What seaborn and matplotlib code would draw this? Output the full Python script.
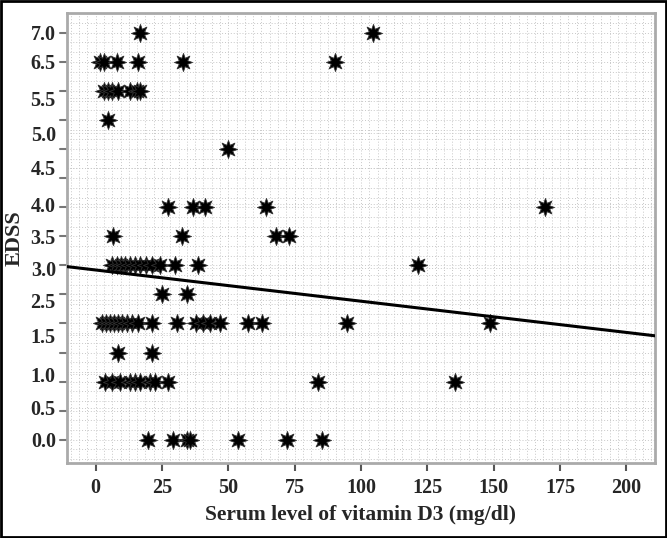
import numpy as np
import pandas as pd
import seaborn as sns
import matplotlib.pyplot as plt
from matplotlib.ticker import MultipleLocator

# serum vitamin D3 (mg/dl) and EDSS score
vitd3 = [16.7, 104.6,
         1.7, 3.0, 8.1, 16.0, 33.0, 90.3,
         3.2, 4.7, 6.2, 8.4, 13.0, 15.6, 16.8,
         4.7,
         50.0,
         27.3, 36.8, 41.3, 64.3, 169.5,
         6.6, 32.6, 68.0, 72.9,
         6.2, 8.1, 9.6, 11.1, 13.0, 14.9, 16.7, 19.0, 21.3, 24.3, 29.9, 38.6, 121.6,
         25.0, 34.5,
         2.4, 3.9, 5.4, 6.9, 8.4, 10.0, 11.8, 13.7, 16.0, 21.3, 30.7, 37.8, 40.5,
         43.1, 46.9, 57.5, 62.7, 94.8, 148.7,
         8.4, 21.3,
         3.6, 6.2, 9.2, 13.0, 14.9, 16.7, 20.5, 22.4, 27.3, 83.9, 135.6,
         19.8, 29.2, 34.5, 35.6, 53.7, 72.2, 85.4]
edss = [7.0, 7.0,
        6.5, 6.5, 6.5, 6.5, 6.5, 6.5,
        6.0, 6.0, 6.0, 6.0, 6.0, 6.0, 6.0,
        5.5,
        5.0,
        4.0, 4.0, 4.0, 4.0, 4.0,
        3.5, 3.5, 3.5, 3.5,
        3.0, 3.0, 3.0, 3.0, 3.0, 3.0, 3.0, 3.0, 3.0, 3.0, 3.0, 3.0, 3.0,
        2.5, 2.5,
        2.0, 2.0, 2.0, 2.0, 2.0, 2.0, 2.0, 2.0, 2.0, 2.0, 2.0, 2.0, 2.0,
        2.0, 2.0, 2.0, 2.0, 2.0, 2.0,
        1.5, 1.5,
        1.0, 1.0, 1.0, 1.0, 1.0, 1.0, 1.0, 1.0, 1.0, 1.0, 1.0,
        0.0, 0.0, 0.0, 0.0, 0.0, 0.0, 0.0]

# fit line as printed in the figure (overlapping points hide part of the sample)
fit_intercept = 2.92
fit_slope = -0.00537

xticks = [0, 25, 50, 75, 100, 125, 150, 175, 200]
# the y labels in the original sit a bit off the tick marks
ylabels = ["0.0", "0.5", "1.0", "1.5", "2.5", "3.0", "3.5", "4.0", "4.5", "5.0", "5.5", "6.5", "7.0"]
ylabel_pos = [0.0, 0.55, 1.13, 1.8, 2.4, 2.95, 3.5, 4.05, 4.68, 5.27, 5.87, 6.5, 7.0]

df = pd.DataFrame({"vitd3": vitd3, "edss": edss})

sns.set_theme(style="white")
plt.rcParams["font.family"] = ["Liberation Serif", "DejaVu Serif"]

fig = plt.figure(figsize=(6.67, 5.38), dpi=100)
ax = fig.add_axes([0.1004, 0.1394, 0.8816, 0.8364])
ax.set_xlim(-10.8, 210.8)
ax.set_ylim(-0.40, 7.34)

# fine dotted background grid
ax.xaxis.set_minor_locator(MultipleLocator(25 / 8))
ax.yaxis.set_minor_locator(MultipleLocator(0.5 / 3))
ax.grid(which="both", color="#c8c8c8", linestyle=(0, (1, 2)), linewidth=0.7)
ax.set_axisbelow(True)

sns.scatterplot(data=df, x="vitd3", y="edss", ax=ax, marker=(8, 1, 0), s=170,
                color="black", edgecolor="#333333", linewidth=0.6, zorder=3)
ax.axline((0, fit_intercept), slope=fit_slope, color="black", linewidth=2.2, zorder=4)

ax.set_xticks(xticks)
ax.set_xticklabels([str(t) for t in xticks], fontsize=14.5, fontweight="bold")
ax.set_yticks(ylabel_pos)
ax.set_yticklabels(ylabels, fontsize=14.5, fontweight="bold")
ax.tick_params(axis="y", which="major", length=0, pad=8)
ax.tick_params(axis="x", which="major", length=6, width=1.5, color="#555555",
               direction="out", bottom=True, pad=5)
ax.tick_params(which="minor", length=0)

# tick marks for the y axis at every 0.5
for v in np.arange(0, 7.01, 0.5):
    ax.plot([-0.012, 0], [v, v], transform=ax.get_yaxis_transform(),
            color="#777777", linewidth=1.5, clip_on=False)

ax.set_xlabel("Serum level of vitamin D3 (mg/dl)", fontsize=15.5, fontweight="bold", labelpad=5)
ax.set_ylabel("EDSS", fontsize=16, fontweight="bold", labelpad=4)

for side in ax.spines.values():
    side.set_color("#aaaaaa")
    side.set_linewidth(2)

fig.patches.append(plt.Rectangle((0.002, 0.002), 0.996, 0.996, transform=fig.transFigure,
                                 fill=False, edgecolor="black", linewidth=2))

fig.savefig("out.png", dpi=100)
